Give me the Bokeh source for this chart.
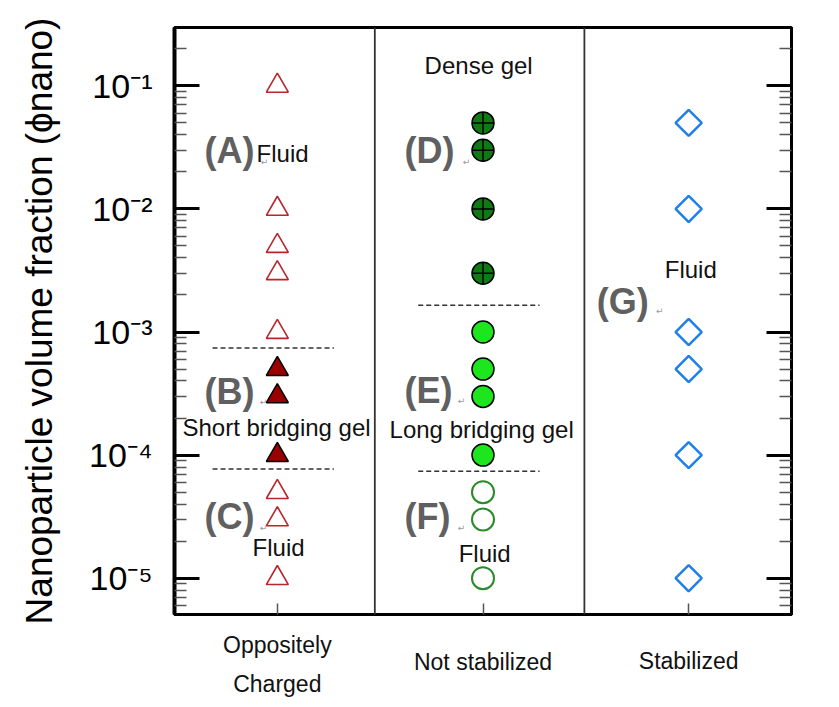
import math
from bokeh.plotting import figure
from bokeh.layouts import column
from bokeh.models import Range1d, LogAxis, FixedTicker, Span, Label
from bokeh.core.properties import value
from bokeh.embed import file_html
from bokeh.resources import INLINE

# ---------------- data ----------------
categories = ["Oppositely\nCharged", "Not stabilized", "Stabilized"]
cat_x = [0.5, 1.5, 2.5]

oc_fluid_hi = [1e-1, 1e-2, 5e-3, 3e-3, 1e-3]      # open red triangles (A)
oc_gel = [5e-4, 3e-4, 1e-4]                       # filled dark red triangles (B)
oc_fluid_lo = [5e-5, 3e-5, 1e-5]                  # open red triangles (C)
ns_dense = [5e-2, 3e-2, 1e-2, 3e-3]               # dark green crossed circles (D)
ns_long = [1e-3, 5e-4, 3e-4, 1e-4]                # bright green circles (E)
ns_fluid = [5e-5, 3e-5, 1e-5]                     # open green circles (F)
st_fluid = [5e-2, 1e-2, 1e-3, 5e-4, 1e-4, 1e-5]   # open blue diamonds (G)

oc_bounds = [7.4e-4, 7.7e-5]     # dashed phase boundaries, oppositely charged
ns_bounds = [1.65e-3, 7.4e-5]    # dashed phase boundaries, not stabilized

y_ticks = [1e-5, 1e-4, 1e-3, 1e-2, 1e-1]
y_tick_labels = ["10\u207b\u2075", "10\u207b\u2074", "10\u207b\u00b3", "10\u207b\u00b2", "10\u207b\u00b9"]

y_lo, y_hi = 10 ** -5.295, 10 ** -0.526

FONT = "Liberation Sans"
W = 831
MAIN_H = 624
STRIP_H = 75

p = figure(width=W, height=MAIN_H, x_range=Range1d(0, 3), y_range=Range1d(y_lo, y_hi),
           y_axis_type="log", output_backend="svg", toolbar_location=None,
           min_border_left=174, min_border_right=40, min_border_top=27, min_border_bottom=10)
p.background_fill_color = "white"
p.border_fill_color = "white"
p.xgrid.visible = False
p.ygrid.visible = False
p.outline_line_color = "black"
p.outline_line_width = 3

minor = [k * d for d in [1e-6, 1e-5, 1e-4, 1e-3, 1e-2, 1e-1] for k in range(2, 10)]

# left axis
ya = p.yaxis[0]
ya.ticker = FixedTicker(ticks=y_ticks, minor_ticks=minor)
ya.major_label_overrides = dict(zip(y_ticks, y_tick_labels))
ya.major_label_text_font = FONT
ya.major_label_text_font_size = "34px"
ya.major_label_text_color = "black"
ya.major_label_standoff = 22
ya.major_tick_in = 25
ya.major_tick_out = 0
ya.major_tick_line_width = 3
ya.minor_tick_in = 12
ya.minor_tick_out = 0
ya.minor_tick_line_width = 1.5
ya.minor_tick_line_color = "#555555"
ya.axis_line_width = 4
ya.axis_label = "Nanoparticle volume fraction (\u03d5nano)"
ya.axis_label_text_font = FONT
ya.axis_label_text_font_size = "37px"
ya.axis_label_text_font_style = "normal"
ya.axis_label_text_color = "black"
ya.axis_label_standoff = 26

# right axis (ticks only)
ra = LogAxis(ticker=FixedTicker(ticks=y_ticks, minor_ticks=minor))
ra.major_label_overrides = {t: "" for t in y_ticks}
ra.major_tick_in = 25
ra.major_tick_out = 0
ra.major_tick_line_width = 3
ra.minor_tick_in = 12
ra.minor_tick_out = 0
ra.minor_tick_line_width = 1.5
ra.minor_tick_line_color = "#555555"
ra.axis_line_width = 3
p.add_layout(ra, "right")

# bottom axis (ticks only; category names drawn in the strip below)
xa = p.xaxis[0]
xa.ticker = FixedTicker(ticks=cat_x, minor_ticks=[])
xa.major_label_overrides = {c: "" for c in cat_x}
xa.major_label_standoff = 0
xa.major_tick_in = 11
xa.major_tick_out = 0
xa.major_tick_line_width = 1.5
xa.major_tick_line_color = "#555555"
xa.axis_line_width = 3

# column dividers
for loc in [0.974, 1.993]:
    p.add_layout(Span(location=loc, dimension="height", line_color="#333333", line_width=1.8))

# dashed boundaries
hw = 0.295
for cx, bounds in [(cat_x[0], oc_bounds), (cat_x[1], ns_bounds)]:
    p.segment(x0=[cx - 0.02 - hw] * len(bounds), x1=[cx - 0.02 + hw] * len(bounds),
              y0=bounds, y1=bounds, line_color="#333333", line_width=1.5, line_dash="5 3")

# markers
RED = "#b8262b"
p.scatter([cat_x[0]] * len(oc_fluid_hi), oc_fluid_hi, marker="triangle", size=22,
          fill_color=None, line_color=RED, line_width=1.6)
p.scatter([cat_x[0]] * len(oc_fluid_lo), oc_fluid_lo, marker="triangle", size=22,
          fill_color=None, line_color=RED, line_width=1.6)
p.scatter([cat_x[0]] * len(oc_gel), oc_gel, marker="triangle", size=22,
          fill_color="#9a0000", line_color="black", line_width=1.5)
p.scatter([cat_x[1]] * len(ns_dense), ns_dense, marker="circle_cross", size=22,
          fill_color="#0e7a12", line_color="black", line_width=1.5)
p.scatter([cat_x[1]] * len(ns_long), ns_long, marker="circle", size=22,
          fill_color="#1ee61e", line_color="black", line_width=1.5)
p.scatter([cat_x[1]] * len(ns_fluid), ns_fluid, marker="circle", size=22,
          fill_color=None, line_color="#2a8a2a", line_width=2)
p.scatter([cat_x[2]] * len(st_fluid), st_fluid, marker="square", angle=math.pi / 4, size=18.5,
          fill_color=None, line_color="#1e80e8", line_width=2.5)


def px_to_x(px):
    return (px - 174) / 205.57


def py_to_y(py):
    return 10 ** (-1 - (py - 85.3) / 123.1)


notes = [
    ("(A)", 204, 150, "left", "36px", "bold", "#606060"),
    ("(B)", 204, 391, "left", "36px", "bold", "#606060"),
    ("(C)", 204, 516, "left", "36px", "bold", "#606060"),
    ("(D)", 404, 150, "left", "36px", "bold", "#606060"),
    ("(E)", 404, 390, "left", "36px", "bold", "#606060"),
    ("(F)", 404, 516, "left", "36px", "bold", "#606060"),
    ("(G)", 596, 301, "left", "36px", "bold", "#606060"),
    ("Fluid", 256, 153, "left", "24px", "normal", "#111111"),
    ("Short bridging gel", 276, 427, "center", "24px", "normal", "#111111"),
    ("Fluid", 278, 547, "center", "24px", "normal", "#111111"),
    ("Dense gel", 478, 65, "center", "24px", "normal", "#111111"),
    ("Long bridging gel", 481, 429, "center", "24px", "normal", "#111111"),
    ("Fluid", 484, 553, "center", "24px", "normal", "#111111"),
    ("Fluid", 690, 269, "center", "24px", "normal", "#111111"),
]
for t, x, y, al, fs, st, col in notes:
    p.add_layout(Label(x=px_to_x(x), y=py_to_y(y), text=t, text_align=al, text_baseline="middle",
                       text_font=FONT, text_font_size=fs, text_font_style=st, text_color=col))

for x, y in [(264, 161), (263, 401), (263, 528), (466, 161), (461, 400), (461, 528), (659, 310)]:
    p.add_layout(Label(x=px_to_x(x), y=py_to_y(y), text="\u21b5", text_align="center",
                       text_baseline="middle", text_font="DejaVu Sans", text_font_size="9px",
                       text_color="#999999"))

# strip below the plot holding the category names, sharing the x scale
s = figure(width=W, height=STRIP_H, x_range=p.x_range, y_range=Range1d(STRIP_H, 0),
           output_backend="svg", toolbar_location=None,
           x_axis_location=None, y_axis_location=None,
           min_border_left=174, min_border_right=40, min_border_top=0, min_border_bottom=0)
s.outline_line_color = None
s.xgrid.visible = False
s.ygrid.visible = False
s.background_fill_color = "white"
s.border_fill_color = "white"

cat_label_rows = [[644, 683], [661], [660]]   # page rows of the name lines
tx, ty, tt = [], [], []
for cx, name, rows in zip(cat_x, categories, cat_label_rows):
    for line, row in zip(name.split("\n"), rows):
        tx.append(cx)
        ty.append(row - MAIN_H)
        tt.append(line)
s.text(x=tx, y=ty, text=tt, text_align="center", text_baseline="middle",
       text_font=value(FONT), text_font_size=value("23px"), text_color="#111111")

layout = column(p, s, spacing=0)
open("out.html", "w").write(file_html(layout, INLINE))
